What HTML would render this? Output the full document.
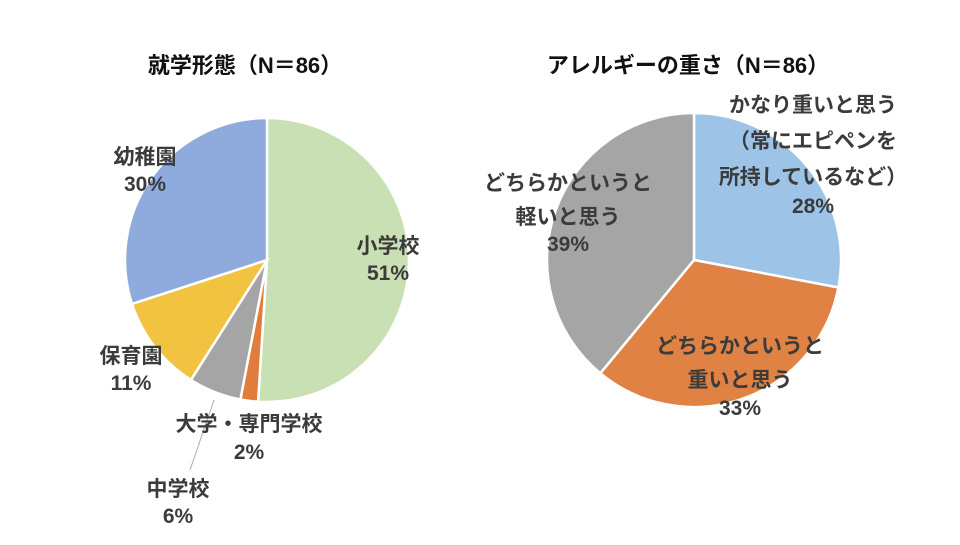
<!DOCTYPE html>
<html><head><meta charset="utf-8"><style>
body{margin:0;background:#fff;}
svg text{font-family:"Liberation Sans","Noto Sans CJK JP",sans-serif;font-weight:bold;}
</style></head><body>
<svg width="960" height="540" viewBox="0 0 960 540">
<text x="245" y="73" text-anchor="middle" font-size="22" fill="#111">就学形態（N＝86）</text>
<text x="688" y="73" text-anchor="middle" font-size="22" fill="#111">アレルギーの重さ（N＝86）</text>
<g id="left"></g>
<g id="right"></g>
<line x1="214" y1="400" x2="190" y2="470" stroke="#aaa" stroke-width="1"/>
<g font-size="21" fill="#3b3b3b" text-anchor="middle">
<text x="388" y="253">小学校</text><text x="388" y="280">51%</text>
<text x="145" y="164">幼稚園</text><text x="145" y="191">30%</text>
<text x="131" y="363">保育園</text><text x="131" y="390">11%</text>
<text x="249" y="431">大学・専門学校</text><text x="249" y="459">2%</text>
<text x="178" y="496">中学校</text><text x="178" y="523">6%</text>
<text x="813" y="112">かなり重いと思う</text>
<text x="813" y="148">（常にエピペンを</text>
<text x="813" y="184">所持しているなど）</text>
<text x="813" y="213">28%</text>
<text x="740" y="353">どちらかというと</text>
<text x="740" y="387">重いと思う</text>
<text x="740" y="415">33%</text>
<text x="568" y="190">どちらかというと</text>
<text x="568" y="224">軽いと思う</text>
<text x="568" y="251">39%</text>
</g>
</svg>
<script>
const leftCategories=["小学校","大学・専門学校","中学校","保育園","幼稚園"];
const leftValues=[51,2,6,11,30];
const leftColors=["#c9e0b4","#e07d3c","#a5a5a5","#f2c241","#8faadc"];
const rightCategories=["かなり重いと思う","どちらかというと重いと思う","どちらかというと軽いと思う"];
const rightValues=[28,33,39];
const rightColors=["#9dc3e6","#df8244","#a5a5a5"];
function drawPie(gid,cx,cy,r,vals,cols,names){
  const g=document.getElementById(gid);
  const total=vals.reduce((a,b)=>a+b,0);
  let a0=-Math.PI/2;
  vals.forEach((v,i)=>{
    const a1=a0+v/total*2*Math.PI;
    const x0=cx+r*Math.cos(a0),y0=cy+r*Math.sin(a0),x1=cx+r*Math.cos(a1),y1=cy+r*Math.sin(a1);
    const large=(a1-a0)>Math.PI?1:0;
    const p=document.createElementNS("http://www.w3.org/2000/svg","path");
    p.setAttribute("d",`M${cx},${cy} L${x0},${y0} A${r},${r} 0 ${large} 1 ${x1},${y1} Z`);
    p.setAttribute("fill",cols[i]);p.setAttribute("stroke","#fff");p.setAttribute("stroke-width","2.5");
    
    
    g.appendChild(p);
    a0=a1;
  });
}
drawPie("left",267,260,142,leftValues,leftColors,leftCategories);
drawPie("right",694,260,147,rightValues,rightColors,rightCategories);
</script>
</body></html>
